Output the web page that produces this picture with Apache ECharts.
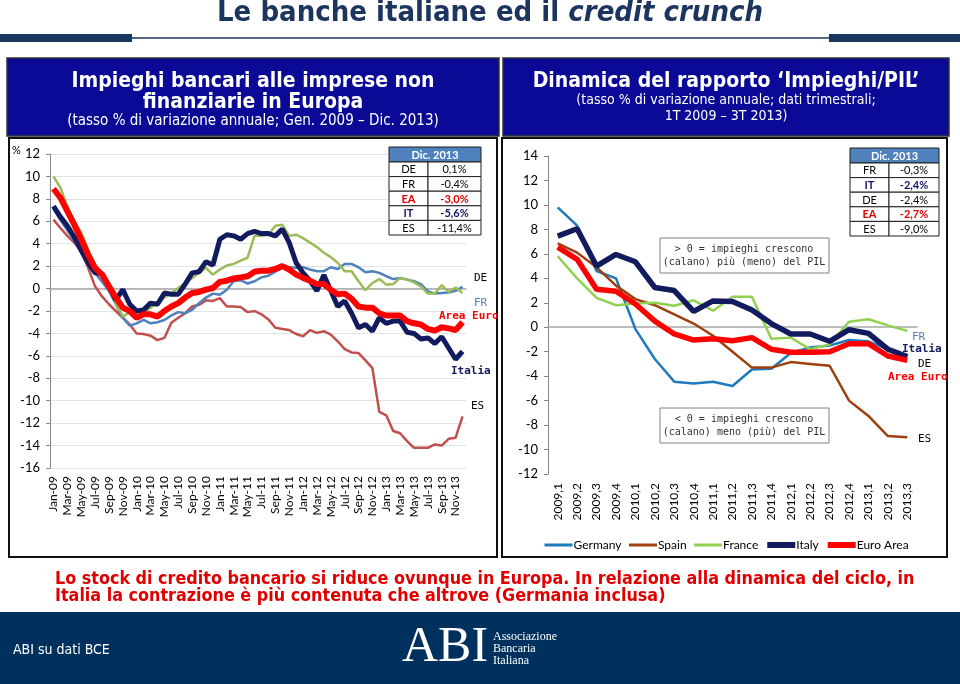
<!DOCTYPE html>
<html>
<head>
<meta charset="utf-8">
<script src="https://cdn.jsdelivr.net/npm/echarts@6/dist/echarts.min.js"></script>
<style>
html,body{margin:0;padding:0;background:#fff;}
#main{width:960px;height:684px;}
</style>
</head>
<body>
<div id="main"></div>
<script>
// grafico sinistro: mensile Gen 2009 - Dic 2013
var months = ['Jan-09','Feb-09','Mar-09','Apr-09','May-09','Jun-09','Jul-09','Aug-09','Sep-09','Oct-09','Nov-09','Dec-09',
  'Jan-10','Feb-10','Mar-10','Apr-10','May-10','Jun-10','Jul-10','Aug-10','Sep-10','Oct-10','Nov-10','Dec-10',
  'Jan-11','Feb-11','Mar-11','Apr-11','May-11','Jun-11','Jul-11','Aug-11','Sep-11','Oct-11','Nov-11','Dec-11',
  'Jan-12','Feb-12','Mar-12','Apr-12','May-12','Jun-12','Jul-12','Aug-12','Sep-12','Oct-12','Nov-12','Dec-12',
  'Jan-13','Feb-13','Mar-13','Apr-13','May-13','Jun-13','Jul-13','Aug-13','Sep-13','Oct-13','Nov-13','Dec-13'];

var deLeft = [7.1,6.1,5.2,4.3,3.4,2.4,1.4,0.6,-0.2,-1.4,-2.6,-3.3,
  -3.1,-2.8,-3.1,-3.0,-2.8,-2.4,-2.1,-2.2,-1.9,-1.3,-0.8,-0.45,
  -0.55,-0.1,0.65,0.75,0.45,0.65,1.0,1.15,1.5,1.85,1.9,1.85,
  1.9,1.7,1.55,1.55,1.9,1.75,2.2,2.2,1.9,1.45,1.55,1.4,
  1.1,0.85,0.95,0.8,0.65,0.4,-0.25,-0.45,-0.4,-0.35,-0.2,0.15];
var frLeft = [10.0,9.0,7.35,6.0,5.0,3.5,2.1,1.25,0.05,-1.3,-2.5,-2.1,
  -2.1,-2.2,-1.7,-1.3,-0.8,-0.4,0.05,0.5,0.95,1.4,1.85,1.25,
  1.7,2.05,2.2,2.5,2.75,4.7,4.7,4.8,5.6,5.7,4.7,4.8,
  4.5,4.1,3.7,3.2,2.8,2.3,1.55,1.55,0.65,-0.15,0.5,0.85,
  0.35,0.4,0.95,0.8,0.55,0.2,-0.45,-0.45,0.3,-0.3,0.1,-0.4];
var esLeft = [6.15,5.4,4.7,4.1,3.3,1.85,0.2,-0.7,-1.4,-2.0,-2.6,-3.2,
  -4.0,-4.05,-4.2,-4.6,-4.4,-3.05,-2.6,-2.2,-1.6,-1.45,-1.05,-1.1,
  -0.85,-1.6,-1.6,-1.65,-2.1,-2.0,-2.3,-2.75,-3.5,-3.6,-3.7,-4.05,
  -4.25,-3.7,-3.95,-3.8,-4.1,-4.7,-5.4,-5.7,-5.75,-6.4,-7.1,-11.0,
  -11.3,-12.7,-12.9,-13.6,-14.2,-14.2,-14.2,-13.9,-14.0,-13.4,-13.3,-11.4];
var itLeft = [7.35,6.4,5.6,4.6,3.4,2.3,1.4,1.35,0.2,-1.0,-0.1,-1.4,
  -2.0,-1.9,-1.3,-1.4,-0.4,-0.5,-0.5,0.4,1.4,1.5,2.4,2.1,
  4.4,4.8,4.7,4.4,4.9,5.1,4.9,4.9,4.7,5.3,4.1,2.3,
  1.4,0.7,-0.2,1.2,-0.2,-1.6,-1.1,-2.2,-3.5,-3.2,-3.8,-2.6,
  -3.1,-2.9,-2.9,-3.9,-4.0,-4.5,-4.4,-4.9,-4.3,-5.3,-6.3,-5.6];
var eaLeft = [8.9,8.1,6.9,5.7,4.4,3.0,1.85,1.25,0.2,-0.8,-1.7,-2.0,
  -2.6,-2.3,-2.3,-2.5,-2.0,-1.6,-1.3,-0.8,-0.4,-0.3,-0.1,0.05,
  0.6,0.7,0.9,1.0,1.1,1.5,1.6,1.6,1.75,2.0,1.7,1.25,
  0.95,0.7,0.4,0.4,-0.1,-0.5,-0.45,-0.9,-1.6,-1.7,-1.7,-2.2,
  -2.4,-2.4,-2.4,-2.9,-3.1,-3.2,-3.6,-3.75,-3.45,-3.55,-3.7,-3.0];

// grafico destro: trimestrale 1T 2009 - 3T 2013
var quarters = ['2009,1','2009,2','2009,3','2009,4','2010,1','2010,2','2010,3','2010,4',
  '2011,1','2011,2','2011,3','2011,4','2012,1','2012,2','2012,3','2012,4','2013,1','2013,2','2013,3'];
var germany = [9.8,8.3,4.6,4.0,-0.15,-2.6,-4.45,-4.6,-4.45,-4.8,-3.45,-3.4,-2.1,-1.65,-1.5,-1.05,-1.15,-1.8,-2.4];
var spain = [6.85,6.1,4.9,3.4,2.3,1.8,1.05,0.3,-0.7,-2.0,-3.3,-3.3,-2.85,-3.0,-3.15,-6.0,-7.25,-8.9,-9.0];
var france = [5.8,4.0,2.4,1.8,1.95,2.0,1.75,2.2,1.35,2.5,2.5,-0.95,-0.85,-1.8,-1.4,0.45,0.65,0.15,-0.3];
var italy = [7.45,8.05,5.0,5.95,5.35,3.25,3.0,1.3,2.15,2.1,1.4,0.3,-0.55,-0.55,-1.15,-0.2,-0.5,-1.8,-2.4];
var euroArea = [6.55,5.55,3.1,2.95,1.9,0.5,-0.55,-1.05,-0.95,-1.1,-0.85,-1.8,-2.05,-2.05,-2.0,-1.35,-1.35,-2.35,-2.7];

// tabelle "Dic. 2013"
var leftTabLabels = ['DE','FR','EA','IT','ES'];
var leftTabValues = ['0,1%','-0,4%','-3,0%','-5,6%','-11,4%'];
var rightTabLabels = ['FR','IT','DE','EA','ES'];
var rightTabValues = ['-0,3%','-2,4%','-2,4%','-2,7%','-9,0%'];

var NAVY = '#111b5e';
var RED = '#ff0000';
var narrow = "'Liberation Sans Narrow','DejaVu Sans Condensed','Liberation Sans',sans-serif";
var calib = "Lato,'Open Sans',sans-serif";
var mono = "'DejaVu Sans Mono','Liberation Mono',monospace";

function tabColor(l){ return l === 'EA' ? '#e00000' : (l === 'IT' ? '#141464' : '#000'); }

function txt(x, y, t, font, fill, align, z){
  return {type:'text', z:z || 10, style:{x:x, y:y, text:t, font:font, fill:fill,
    align:align || 'left', verticalAlign:'middle', textAlign:align || 'left', textVerticalAlign:'middle'}};
}

function makeTable(x0, y0, w1, w2, labels, values){
  var hh = 15, rh = 14.6, rects = [], texts = [];
  rects.push({type:'rect', z:100, shape:{x:x0, y:y0, width:w1+w2, height:hh}, style:{fill:'#4f81bd', stroke:'#1f1f1f', lineWidth:1}});
  texts.push(txt(x0+(w1+w2)/2, y0+hh/2+0.5, 'Dic. 2013', 'bold 11px ' + calib, '#fff', 'center', 101));
  for (var i = 0; i < labels.length; i++){
    var yy = y0 + hh + i*rh;
    var c = tabColor(labels[i]);
    var b = (labels[i] === 'EA' || labels[i] === 'IT') ? 'bold ' : '';
    rects.push({type:'rect', z:100, shape:{x:x0, y:yy, width:w1, height:rh}, style:{fill:'#fff', stroke:'#1f1f1f', lineWidth:1}});
    rects.push({type:'rect', z:100, shape:{x:x0+w1, y:yy, width:w2, height:rh}, style:{fill:'#fff', stroke:'#1f1f1f', lineWidth:1}});
    texts.push(txt(x0+w1/2, yy+rh/2+0.5, labels[i], b+'11px '+calib, c, 'center', 101));
    texts.push(txt(x0+w1+w2/2, yy+rh/2+0.5, values[i], b+'11px '+calib, c, 'center', 101));
  }
  return rects.concat(texts);
}

var graphics = [
  // intestazione
  {type:'text', style:{x:490, y:13, text:'{a|Le banche italiane ed il }{b|credit crunch}',
    align:'center', verticalAlign:'middle', textAlign:'center', textVerticalAlign:'middle',
    rich:{a:{font:'bold 29px ' + narrow, fill:'#1c355e'}, b:{font:'italic bold 29px ' + narrow, fill:'#1c355e'}}}},
  {type:'rect', shape:{x:0, y:34, width:132, height:8}, style:{fill:'#17375e'}},
  {type:'rect', shape:{x:829, y:34, width:131, height:8}, style:{fill:'#17375e'}},
  {type:'line', shape:{x1:132, y1:38, x2:829, y2:38}, style:{stroke:'#1c355e', lineWidth:1.5}},
  // riquadri titolo
  {type:'rect', shape:{x:7, y:58, width:492, height:78}, style:{fill:'#0a0a96', stroke:'#333', lineWidth:1.5}},
  {type:'rect', shape:{x:503, y:58, width:446, height:78}, style:{fill:'#0a0a96', stroke:'#333', lineWidth:1.5}},
  txt(253, 82, 'Impieghi bancari alle imprese non', 'bold 21px ' + narrow, '#fff', 'center'),
  txt(253, 103, 'finanziarie in Europa', 'bold 21px ' + narrow, '#fff', 'center'),
  txt(253, 121, '(tasso % di variazione annuale; Gen. 2009 \u2013 Dic. 2013)', '15px ' + narrow, '#fff', 'center'),
  txt(726, 82, 'Dinamica del rapporto \u2018Impieghi/PIL\u2019', 'bold 21px ' + narrow, '#fff', 'center'),
  txt(726, 100, '(tasso % di variazione annuale; dati trimestrali;', '14px ' + narrow, '#fff', 'center'),
  txt(726, 116, '1T 2009 \u2013 3T 2013)', '14px ' + narrow, '#fff', 'center'),
  // cornici grafici
  {type:'rect', shape:{x:9, y:138, width:488, height:419}, style:{fill:'none', stroke:'#111', lineWidth:2}},
  {type:'rect', shape:{x:502, y:138, width:445, height:419}, style:{fill:'none', stroke:'#111', lineWidth:2}},
  txt(12, 150, '%', '11px ' + calib, '#000'),
  // etichette serie (sinistra)
  txt(474, 278, 'DE', '11px ' + mono, '#000'),
  txt(474, 303, 'FR', '11px ' + mono, '#4f81bd'),
  txt(439, 316, 'Area Euro', 'bold 11px ' + mono, RED),
  txt(451, 371, 'Italia', 'bold 11px ' + mono, NAVY),
  txt(471, 406, 'ES', '11px ' + mono, '#000'),
  // etichette serie (destra)
  txt(912, 337, 'FR', '11px ' + mono, '#4f81bd'),
  txt(902, 349, 'Italia', 'bold 11px ' + mono, NAVY),
  txt(918, 364, 'DE', '11px ' + mono, '#000'),
  txt(888, 377, 'Area Euro', 'bold 11px ' + mono, RED),
  txt(918, 439, 'ES', '11px ' + mono, '#000'),
  // riquadri note
  {type:'rect', shape:{x:660, y:238, width:169, height:35}, style:{fill:'#fff', stroke:'#808080', lineWidth:1}},
  txt(744, 249, '> 0 = impieghi crescono', '10px ' + mono, '#333', 'center'),
  txt(744, 262, '(calano) pi\u00f9 (meno) del PIL', '10px ' + mono, '#333', 'center'),
  {type:'rect', shape:{x:660, y:408, width:169, height:35}, style:{fill:'#fff', stroke:'#808080', lineWidth:1}},
  txt(744, 419, '< 0 = impieghi crescono', '10px ' + mono, '#333', 'center'),
  txt(744, 432, '(calano) meno (pi\u00f9) del PIL', '10px ' + mono, '#333', 'center'),
  // commento
  txt(55, 579, 'Lo stock di credito bancario si riduce ovunque in Europa. In relazione alla dinamica del ciclo, in', 'bold 17.8px ' + narrow, '#e00000'),
  txt(55, 596, 'Italia la contrazione \u00e8 pi\u00f9 contenuta che altrove (Germania inclusa)', 'bold 17.8px ' + narrow, '#e00000'),
  // piede
  {type:'rect', shape:{x:0, y:612, width:960, height:72}, style:{fill:'#00305e'}},
  txt(13, 650, 'ABI su dati BCE', '14px ' + narrow, '#fff'),
  txt(402, 648, 'ABI', '50px "Liberation Serif",serif', '#fff'),
  txt(493, 637, 'Associazione', '12px "Liberation Serif",serif', '#fff'),
  txt(493, 649, 'Bancaria', '12px "Liberation Serif",serif', '#fff'),
  txt(493, 661, 'Italiana', '12px "Liberation Serif",serif', '#fff')
].concat(makeTable(389, 147, 39, 53, leftTabLabels, leftTabValues))
 .concat(makeTable(850, 148, 39, 50, rightTabLabels, rightTabValues));

var axisLabelStyle = {fontFamily: calib, fontSize: 12, color: '#000'};

function line(name, data, color, width, xi, yi){
  return {name:name, type:'line', data:data, xAxisIndex:xi, yAxisIndex:yi, symbol:'none',
    lineStyle:{color:color, width:width}, itemStyle:{color:color}, animation:false, z:3};
}

var option = {
  backgroundColor: '#fff',
  animation: false,
  graphic: graphics,
  legend: {
    data: [
      {name:'Germany', lineStyle:{width:3}},
      {name:'Spain', lineStyle:{width:3}},
      {name:'France', lineStyle:{width:3}},
      {name:'Italy', lineStyle:{width:6}},
      {name:'Euro Area', lineStyle:{width:6}}
    ],
    left: 538, top: 534, itemWidth: 28, itemHeight: 12, itemGap: 6,
    itemStyle: {opacity: 0},
    textStyle: {fontFamily: calib, fontSize: 12, color: '#000', padding:[0,0,0,-4]}
  },
  grid: [
    {left: 50, top: 154, width: 416, height: 314},
    {left: 548, top: 156, width: 369, height: 318}
  ],
  xAxis: [
    {gridIndex:0, type:'category', data:months, position:'bottom', boundaryGap:true,
      axisLine:{show:false, onZero:false}, axisTick:{show:false},
      axisLabel:Object.assign({rotate:90, interval:1, margin:8}, axisLabelStyle)},
    {gridIndex:0, type:'category', data:months, position:'top', boundaryGap:true,
      axisLine:{onZero:true, lineStyle:{color:'#a6a6a6', width:1.5}},
      axisTick:{interval:1, inside:true, length:4, lineStyle:{color:'#a6a6a6'}}, axisLabel:{show:false}},
    {gridIndex:1, type:'category', data:quarters, position:'bottom', boundaryGap:true,
      axisLine:{show:false, onZero:false}, axisTick:{show:false},
      axisLabel:Object.assign({rotate:90, interval:0, margin:9}, axisLabelStyle)},
    {gridIndex:1, type:'category', data:quarters, position:'top', boundaryGap:true,
      axisLine:{onZero:true, lineStyle:{color:'#a6a6a6', width:1.5}},
      axisTick:{interval:0, inside:true, length:4, lineStyle:{color:'#a6a6a6'}}, axisLabel:{show:false}}
  ],
  yAxis: [
    {gridIndex:0, type:'value', min:-16, max:12, interval:2,
      axisLine:{show:true, lineStyle:{color:'#868686'}}, axisTick:{show:true, length:4, lineStyle:{color:'#868686'}},
      splitLine:{show:true, lineStyle:{color:'#e3e3e3'}},
      axisLabel:Object.assign({margin:10}, axisLabelStyle, {fontSize:13})},
    {gridIndex:1, type:'value', min:-12, max:14, interval:2,
      axisLine:{show:true, lineStyle:{color:'#868686'}}, axisTick:{show:true, length:4, lineStyle:{color:'#868686'}},
      splitLine:{show:false},
      axisLabel:Object.assign({margin:10}, axisLabelStyle, {fontSize:13})}
  ],
  series: [
    line('ES', esLeft, '#c0504d', 2.5, 0, 0),
    line('DE', deLeft, '#4f81bd', 2.5, 0, 0),
    line('FR', frLeft, '#9bbb59', 2.5, 0, 0),
    line('IT', itLeft, NAVY, 5, 0, 0),
    line('EA', eaLeft, RED, 6, 0, 0),
    line('Germany', germany, '#1f7bbf', 2.5, 2, 1),
    line('Spain', spain, '#9e3f0e', 2.5, 2, 1),
    line('France', france, '#92d050', 2.5, 2, 1),
    line('Italy', italy, NAVY, 5.5, 2, 1),
    line('Euro Area', euroArea, RED, 5.5, 2, 1)
  ]
};

var chart = echarts.init(document.getElementById('main'));
chart.setOption(option);
</script>
</body>
</html>
